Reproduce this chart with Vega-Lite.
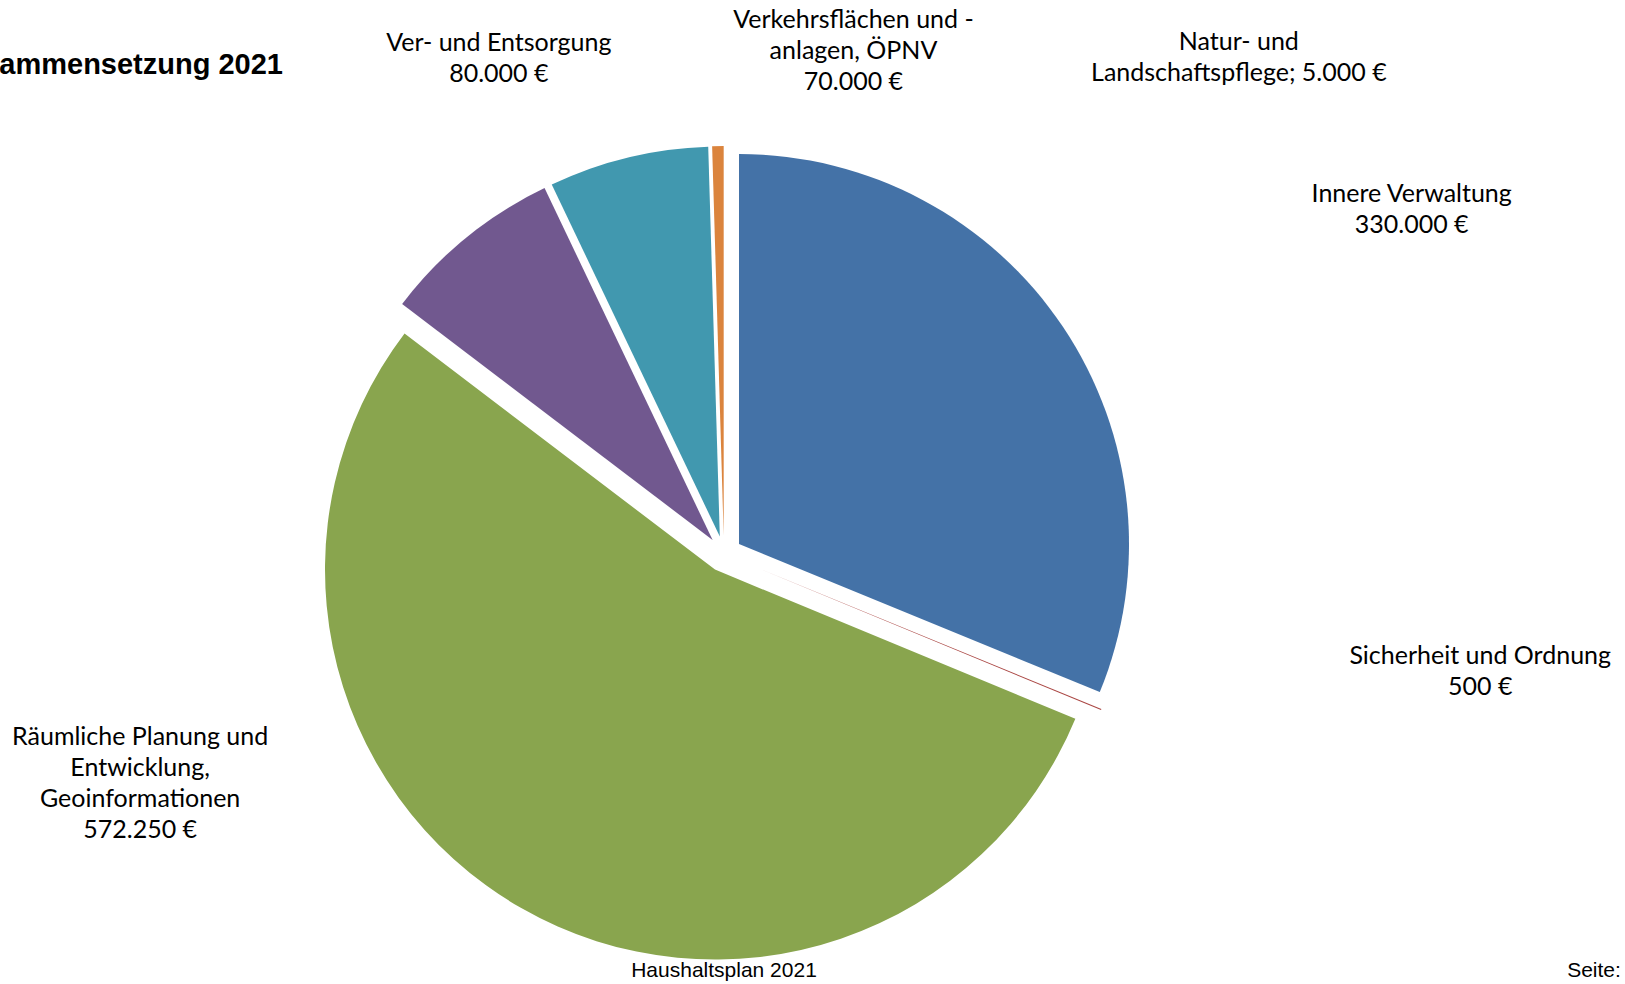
{
  "$schema": "https://vega.github.io/schema/vega-lite/v6.json",
  "autosize": "none",
  "width": 1448,
  "height": 860,
  "padding": {"left": 0, "top": 124, "right": 177, "bottom": 0},
  "background": "white",
  "view": {"stroke": null},
  "datasets": {
    "haushalt": [
      {"Nr": 1, "Bereich": "Innere Verwaltung", "Betrag": 330000, "Label": "Innere Verwaltung\n330.000 €"},
      {"Nr": 2, "Bereich": "Sicherheit und Ordnung", "Betrag": 500, "Label": "Sicherheit und Ordnung\n500 €"},
      {"Nr": 3, "Bereich": "Räumliche Planung und Entwicklung, Geoinformationen", "Betrag": 572250, "Label": "Räumliche Planung und\nEntwicklung,\nGeoinformationen\n572.250 €"},
      {"Nr": 4, "Bereich": "Ver- und Entsorgung", "Betrag": 80000, "Label": "Ver- und Entsorgung\n80.000 €"},
      {"Nr": 5, "Bereich": "Verkehrsflächen und -anlagen, ÖPNV", "Betrag": 70000, "Label": "Verkehrsflächen und  -\nanlagen, ÖPNV\n70.000 €"},
      {"Nr": 6, "Bereich": "Natur- und Landschaftspflege", "Betrag": 5000, "Label": "Natur- und\nLandschaftspflege; 5.000 €"}
    ]
  },
  "layer": [
    {
      "data": {"name": "haushalt"},
      "transform": [
        {"stack": "Betrag", "groupby": [], "sort": [{"field": "Nr", "order": "ascending"}], "as": ["start", "end"]}
      ],
      "encoding": {
        "theta": {"field": "start", "type": "quantitative", "scale": {"domain": [0, 1057750], "zero": true}}
      },
      "layer": [
        {
          "encoding": {
            "theta2": {"field": "end"},
            "color": {
              "field": "Bereich",
              "type": "nominal",
              "legend": null,
              "scale": {
                "domain": ["Innere Verwaltung", "Sicherheit und Ordnung", "Räumliche Planung und Entwicklung, Geoinformationen", "Ver- und Entsorgung", "Verkehrsflächen und -anlagen, ÖPNV", "Natur- und Landschaftspflege"],
                "range": ["#4472A7", "#AA4643", "#89A54E", "#71588F", "#4198AF", "#DB843D"]
              }
            }
          },
          "layer": [
            {"transform": [{"filter": "datum.Nr == 1"}], "mark": {"type": "arc", "radius": 390, "xOffset": 15, "yOffset": -10}},
            {"transform": [{"filter": "datum.Nr == 2"}], "mark": {"type": "arc", "radius": 390, "xOffset": 16.6, "yOffset": 6.9}},
            {"transform": [{"filter": "datum.Nr == 3"}], "mark": {"type": "arc", "radius": 390, "xOffset": -9, "yOffset": 15.6}},
            {"transform": [{"filter": "datum.Nr == 4"}], "mark": {"type": "arc", "radius": 390, "xOffset": -11.4, "yOffset": -14}},
            {"transform": [{"filter": "datum.Nr == 5"}], "mark": {"type": "arc", "radius": 390, "xOffset": -4.2, "yOffset": -17.5}},
            {"transform": [{"filter": "datum.Nr == 6"}], "mark": {"type": "arc", "radius": 390, "xOffset": -0.3, "yOffset": -18}}
          ]
        },
        {
          "transform": [{"filter": "datum.Nr == 1"}],
          "mark": {"type": "text", "radius": 776, "thetaOffset": 1.0891, "align": "center", "baseline": "middle", "lineBreak": "\n", "font": "Lato", "fontSize": 25, "lineHeight": 31, "color": "black"},
          "encoding": {"text": {"field": "Label"}}
        },
        {
          "transform": [{"filter": "datum.Nr == 2"}],
          "mark": {"type": "text", "radius": 763, "thetaOffset": -0.2559, "align": "center", "baseline": "middle", "lineBreak": "\n", "font": "Lato", "fontSize": 25, "lineHeight": 31, "color": "black"},
          "encoding": {"text": {"field": "Label"}}
        },
        {
          "transform": [{"filter": "datum.Nr == 3"}],
          "mark": {"type": "text", "radius": 612, "thetaOffset": 2.4447, "align": "center", "baseline": "middle", "lineBreak": "\n", "font": "Lato", "fontSize": 25, "lineHeight": 31, "color": "black"},
          "encoding": {"text": {"field": "Label"}}
        },
        {
          "transform": [{"filter": "datum.Nr == 4"}],
          "mark": {"type": "text", "radius": 558, "thetaOffset": 0.5053, "align": "center", "baseline": "middle", "lineBreak": "\n", "font": "Lato", "fontSize": 25, "lineHeight": 31, "color": "black"},
          "encoding": {"text": {"field": "Label"}}
        },
        {
          "transform": [{"filter": "datum.Nr == 5"}],
          "mark": {"type": "text", "radius": 549, "thetaOffset": 0.6836, "align": "center", "baseline": "middle", "lineBreak": "\n", "font": "Lato", "fontSize": 25, "lineHeight": 31, "color": "black"},
          "encoding": {"text": {"field": "Label"}}
        },
        {
          "transform": [{"filter": "datum.Nr == 6"}],
          "mark": {"type": "text", "radius": 726, "thetaOffset": 0.818, "align": "center", "baseline": "middle", "lineBreak": "\n", "font": "Lato", "fontSize": 25, "lineHeight": 31, "color": "black"},
          "encoding": {"text": {"field": "Label"}}
        }
      ]
    },
    {
      "data": {"values": [{"Text": "ammensetzung 2021"}]},
      "mark": {"type": "text", "theta": 5.297, "radius": 869, "align": "left", "baseline": "alphabetic", "font": "Liberation Sans", "fontSize": 29, "fontWeight": "bold", "color": "black"},
      "encoding": {"text": {"field": "Text"}}
    },
    {
      "data": {"values": [{"Text": "Haushaltsplan 2021"}]},
      "mark": {"type": "text", "theta": 3.14159, "radius": 417, "align": "center", "baseline": "middle", "font": "Liberation Sans", "fontSize": 21, "color": "black"},
      "encoding": {"text": {"field": "Text"}}
    },
    {
      "data": {"values": [{"Text": "Seite:"}]},
      "mark": {"type": "text", "theta": 2.0182, "radius": 965, "align": "center", "baseline": "middle", "font": "Liberation Sans", "fontSize": 21, "color": "black"},
      "encoding": {"text": {"field": "Text"}}
    }
  ]
}
